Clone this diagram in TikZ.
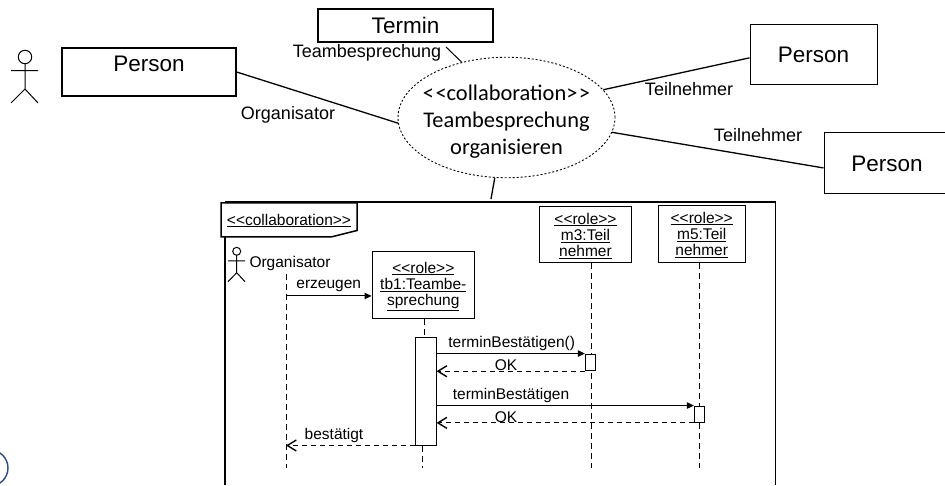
\documentclass[tikz,border=0pt]{standalone}
\usepackage{fontspec}
\setmainfont{Liberation Sans}
\newfontfamily\ovalfont{Carlito}
\usetikzlibrary{arrows.meta, shapes.geometric}
\definecolor{logoblue}{RGB}{50,75,125}
\tikzset{
	classbox/.style = {draw, line width = 1.3pt, minimum width = #1, inner sep = 0pt, font = \fontsize{22.5}{26}\selectfont},
	rolebox/.style = {draw, line width = 1pt, inner sep = 0pt},
	roletext/.style = {align = center, inner sep = 0pt, font = \fontsize{15.5}{16.4}\selectfont},
	actbox/.style = {draw, line width = 1pt, fill = white, inner sep = 0pt, minimum width = #1},
	assoc/.style = {line width = 1.3pt},
	lifeline/.style = {line width = 0.9pt, dash pattern = on 6pt off 4pt},
	call/.style = {line width = 1pt, -{Triangle[length = 7pt, width = 6.5pt]}},
	reply/.style = {line width = 0.9pt, dash pattern = on 5pt off 4pt, -{Straight Barb[length = 9pt, width = 11pt, line width = 1.4pt]}},
	big/.style = {font = \fontsize{18}{20}\selectfont, inner sep = 0pt},
	small/.style = {font = \fontsize{15.5}{17}\selectfont, inner sep = 0pt}
}
\begin{document}
\begin{tikzpicture}[x = 1pt, y = -1pt]
	\useasboundingbox (0, 0) rectangle (945, 486);
	\clip (0, 0) rectangle (945, 486);
	\node[classbox = 174pt, minimum height = 48pt] (person1) at (149, 72) {};
	\node[font = \fontsize{22.5}{26}\selectfont, inner sep = 0pt] (person1text) at (149, 64) {Person};
	\node[classbox = 175pt, minimum height = 33pt] (termin) at (405.5, 25.5) {Termin};
	\node[classbox = 127pt, minimum height = 60.5pt, line width = 1pt] (person2) at (813.5, 54.5) {Person};
	\node[classbox = 126pt, minimum height = 61pt, line width = 1pt] (person3) at (887, 163.5) {Person};
	\node[ellipse, draw, dash pattern = on 2pt off 2pt, line width = 0.9pt, minimum width = 217pt, minimum height = 120.5pt, inner sep = 0pt] (collab) at (506.5, 117.5) {};
	\node[align = center, inner sep = 0pt, font = \ovalfont\fontsize{22.4}{26.7}\selectfont] (collabtext) at (506.5, 121.5) {<\kern1.5pt<collaboration>\kern1.5pt>\\Teambesprechung\\organisieren};
	\coordinate (terminend) at (446, 47);
	\coordinate (frameend) at (491, 199);
	\draw[assoc] (person1.east) -- (collab.183);
	\draw[line width = 1pt] (terminend) -- (collab.129);
	\draw[assoc] (collab.16) -- (person2.183);
	\draw[assoc] (collab.-8.5) -- (person3.184);
	\draw[assoc] (collab.-101) -- (frameend);
	\node[big] (lbteam) at (367, 53) {Teambesprechung};
	\node[big] (lborg) at (288, 115) {Organisator};
	\node[big] (lbteil1) at (689, 89) {Teilnehmer};
	\node[big] (lbteil2) at (758, 135) {Teilnehmer};
	\draw[line width = 1pt] (25, 57) circle (6.7);
	\draw[line width = 1pt] (11, 70.7) -- (38, 70.7) (25, 63.7) -- (25, 89) (11, 103) -- (25, 89) -- (38, 103);
	\draw[logoblue, line width = 1.4pt] (-10, 468) circle (18);
	\draw[line width = 1.5pt] (225, 237) -- (225, 485) (225, 202) -- (775.5, 202) -- (775.5, 485);
	\draw[line width = 1.5pt] (221, 203) -- (357, 203) -- (357, 230.5) -- (331, 237) -- (221, 237) -- cycle;
	\node[small] (lbframe) at (289, 220.5) {\underline{<{}<collaboration>{}>}};
	\draw[line width = 1pt] (236.7, 251.3) circle (4);
	\draw[line width = 1pt] (228, 261) -- (245, 261) (236.7, 255.3) -- (236.7, 272.7) (228, 281.7) -- (236.7, 272.7) -- (245, 281.7);
	\node[small] (lborgin) at (290, 263) {Organisator};
	\node[rolebox, minimum width = 102pt, minimum height = 67pt] (tb1) at (423, 285) {};
	\node[roletext] (tb1text) at (423.3, 286.5) {\underline{<{}<role>{}>}\\\underline{tb1:Teambe-}\\\underline{sprechung}};
	\node[rolebox, minimum width = 92pt, minimum height = 56pt] (m3) at (585.5, 235) {};
	\node[roletext] (m3text) at (585.5, 236) {\underline{<{}<role>{}>}\\\underline{m3:Teil}\\\underline{nehmer}};
	\node[rolebox, minimum width = 87.5pt, minimum height = 57pt] (m5) at (702, 234.5) {};
	\node[roletext] (m5text) at (701.7, 235) {\underline{<{}<role>{}>}\\\underline{m5:Teil}\\\underline{nehmer}};
	\coordinate (orgtop) at (286, 274);
	\coordinate (orgbot) at (286, 468);
	\coordinate (tb1bot) at (422, 468);
	\coordinate (m3top) at (591, 263);
	\coordinate (m3bot) at (591, 468);
	\coordinate (m5top) at (699, 263);
	\coordinate (m5bot) at (699, 468);
	\draw[lifeline] (orgtop) -- (orgbot);
	\draw[lifeline] (m3top) -- (m3bot);
	\draw[lifeline] (m5top) -- (m5bot);
	\node[actbox = 20.7pt, minimum height = 108pt] (acttb) at (425.7, 391) {};
	\node[actbox = 10.4pt, minimum height = 16.7pt] (actm3) at (590.5, 362.4) {};
	\node[actbox = 10pt, minimum height = 16.3pt] (actm5) at (699.3, 414.2) {};
	\draw[lifeline] (tb1.-88) -- (tb1.-88 |- acttb.north);
	\draw[lifeline] (acttb.south -| tb1bot) -- (tb1bot);
	\draw[call] (orgtop |- tb1.192) -- (tb1.192);
	\draw[call] (acttb.east |- actm3.north west) -- (actm3.north west);
	\draw[reply] (actm3.south west) -- (acttb.east |- actm3.south west);
	\draw[call] (acttb.east |- actm5.north west) -- (actm5.north west);
	\draw[reply] (actm5.south west) -- (acttb.east |- actm5.south west);
	\draw[reply] (acttb.south west) -- (orgbot |- acttb.south west);
	\node[small] (lberz) at (328.7, 286) {erzeugen};
	\node[small] (lbcall1) at (511.7, 343) {terminBestätigen()};
	\node[small] (lbok1) at (506, 365.5) {OK};
	\node[small] (lbcall2) at (511, 395) {terminBestätigen};
	\node[small] (lbok2) at (506, 417.5) {OK};
	\node[small] (lbbest) at (334, 435) {bestätigt};
\end{tikzpicture}
\end{document}
